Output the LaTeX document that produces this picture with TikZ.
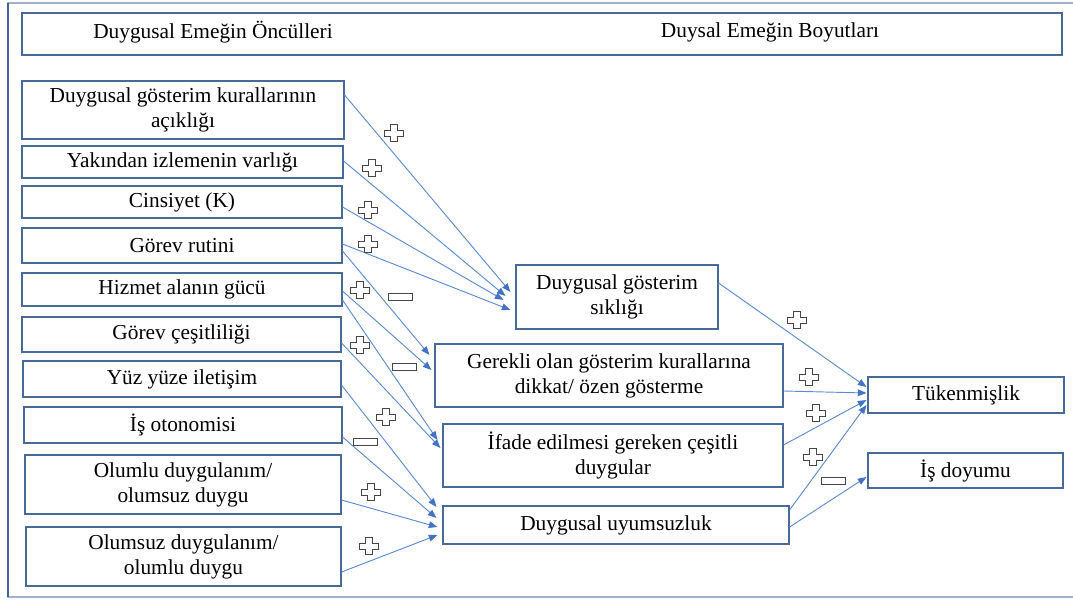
\documentclass[tikz,border=0pt]{standalone}
\usepackage{fontspec}
\setmainfont{Liberation Serif}
\usetikzlibrary{arrows.meta,calc}
\definecolor{boxblue}{RGB}{72,106,150}
\definecolor{linkblue}{RGB}{91,139,206}
\definecolor{tipblue}{RGB}{68,114,196}
\definecolor{framelight}{RGB}{160,178,204}
\definecolor{framedark}{RGB}{70,100,145}
\definecolor{signgray}{RGB}{70,70,70}
\tikzset{
  box/.style={draw=boxblue,line width=0.8pt,fill=white,inner sep=0pt,align=center,font=\fontsize{16}{18.75}\selectfont},
  lbl/.style={inner sep=0pt,font=\fontsize{16}{18.75}\selectfont},
  link/.style={draw=linkblue,line width=0.7pt,-{Triangle[length=6.5pt,width=5pt,color=tipblue]}},
  signstyle/.style={draw=signgray,fill=white,line width=0.6pt},
  plussign/.pic={\draw[signstyle] (-3.2,-8.5) -- (3.2,-8.5) -- (3.2,-3) -- (9.5,-3) -- (9.5,3) -- (3.2,3) -- (3.2,8.5) -- (-3.2,8.5) -- (-3.2,3) -- (-9.5,3) -- (-9.5,-3) -- (-3.2,-3) -- cycle;},
  minussign/.pic={\draw[signstyle] (-12,-3.5) rectangle (12,3.5);}
}
\begin{document}
\begin{tikzpicture}[x=0.75pt,y=-0.75pt]
\useasboundingbox (0,0) rectangle (1073,599);
% outer frame
\draw[framelight,line width=1pt] (1073,3) -- (8,3) -- (8,597) -- (1073,597);
\draw[framedark,line width=1pt] (8,3) -- (8,597);
% header
\node[box,minimum width=780pt,minimum height=31.5pt] (head) at (542,34) {};
\node[lbl] (h1) at (213,32) {Duygusal Emeğin Öncülleri};
\node[lbl] (h2) at (770,32) {Duysal Emeğin Boyutları};
% left boxes
\node[box,minimum width=241.5pt,minimum height=43.5pt] (b1) at (183,110) {Duygusal gösterim kurallarının\\açıklığı};
\node[box,minimum width=240.75pt,minimum height=24pt] (b2) at (182.5,162) {Yakından izlemenin varlığı};
\node[box,minimum width=240pt,minimum height=24pt] (b3) at (182,202) {Cinsiyet (K)};
\node[box,minimum width=240pt,minimum height=26.25pt] (b4) at (182,245.5) {Görev rutini};
\node[box,minimum width=240pt,minimum height=24.75pt] (b5) at (182,289.5) {Hizmet alanın gücü};
\node[box,minimum width=239.25pt,minimum height=26.25pt] (b6) at (181.5,334.5) {Görev çeşitliliği};
\node[box,minimum width=238.5pt,minimum height=27pt] (b7) at (182,379) {Yüz yüze iletişim};
\node[box,minimum width=238.5pt,minimum height=27pt] (b8) at (183,425) {İş otonomisi};
\node[box,minimum width=237pt,minimum height=44.25pt] (b9) at (183,484.5) {Olumlu duygulanım/\\olumsuz duygu};
\node[box,minimum width=236.25pt,minimum height=44.25pt] (b10) at (183.5,556.5) {Olumsuz duygulanım/\\olumlu duygu};
% middle boxes
\node[box,minimum width=151.5pt,minimum height=48pt] (A) at (617,297) {Duygusal gösterim\\sıklığı};
\node[box,minimum width=261pt,minimum height=47.25pt] (B) at (609,375.5) {Gerekli olan gösterim kurallarına\\dikkat/ özen gösterme};
\node[box,minimum width=255pt,minimum height=47.25pt] (C) at (613,455.5) {İfade edilmesi gereken çeşitli\\duygular};
\node[box,minimum width=259.5pt,minimum height=28.5pt] (D) at (616,525) {Duygusal uyumsuzluk};
% right boxes
\node[box,minimum width=147pt,minimum height=27pt] (T) at (966,395) {Tükenmişlik};
\node[box,minimum width=146.25pt,minimum height=26.25pt] (I) at (965.5,470.5) {İş doyumu};
% connectors
\draw[link] ($(b1.east)+(0,-15)$) -- ($(A.west)+(-5,-5)$);
\draw[link] ($(b2.east)+(0,-1)$) -- ($(A.west)+(-10,-1)$);
\draw[link] ($(b3.east)+(0,5)$) -- ($(A.west)+(-12,3)$);
\draw[link] ($(b4.east)+(0,-1.5)$) -- ($(A.west)+(-5,13)$);
\draw[link] ($(b4.east)+(0,5.5)$) -- ($(B.west)+(-5,-20.5)$);
\draw[link] ($(b5.east)+(0,1.5)$) -- ($(B.west)+(-3,-5.5)$);
\draw[link] ($(b5.east)+(0,10.5)$) -- ($(C.west)+(-5,-15.5)$);
\draw[link] ($(b6.east)+(0,8.5)$) -- ($(C.west)+(-2,-7.5)$);
\draw[link] ($(b7.east)+(0,6)$) -- ($(D.west)+(-6,-18)$);
\draw[link] ($(b8.east)+(0,12)$) -- ($(D.west)+(-6,-7)$);
\draw[link] ($(b9.east)+(0,15.5)$) -- ($(D.west)+(-5,2)$);
\draw[link] ($(b10.east)+(0,15.5)$) -- ($(D.west)+(-5,10)$);
\draw[link] ($(A.east)+(0,-14)$) -- ($(T.west)+(-1,-8)$);
\draw[link] ($(B.east)+(0,15.5)$) -- ($(T.west)+(-1,-2)$);
\draw[link] ($(C.east)+(0,-10.5)$) -- ($(T.west)+(-1,5)$);
\draw[link] ($(D.east)+(0,-15)$) -- ($(T.west)+(-1,10)$);
\draw[link] ($(D.east)+(0,2)$) -- ($(I.west)+(-1,6.5)$);
% signs
\pic at (394,133) {plussign};
\pic at (372,168) {plussign};
\pic at (368,210) {plussign};
\pic at (368,244) {plussign};
\pic at (360,290) {plussign};
\pic at (400,297) {minussign};
\pic at (360,345) {plussign};
\pic at (404,367) {minussign};
\pic at (386,417) {plussign};
\pic at (365,442) {minussign};
\pic at (371,492) {plussign};
\pic at (369,546) {plussign};
\pic at (797,320) {plussign};
\pic at (809,377) {plussign};
\pic at (816,413) {plussign};
\pic at (813,457) {plussign};
\pic at (833,481) {minussign};
\end{tikzpicture}
\end{document}
